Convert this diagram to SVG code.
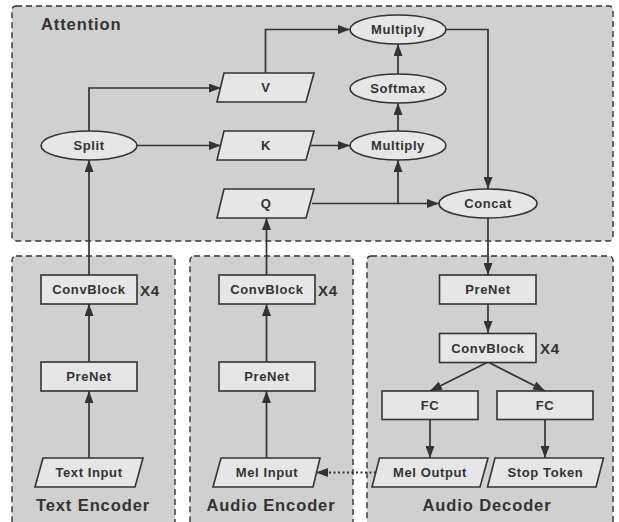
<svg xmlns="http://www.w3.org/2000/svg" width="619" height="522" viewBox="0 0 619 522">
<defs>
<marker id="arr" markerUnits="userSpaceOnUse" markerWidth="12" markerHeight="9" refX="12" refY="4.5" orient="auto">
<path d="M0,0 L12,4.5 L0,9 z" fill="#333"/>
</marker>
<style>
.sec{fill:#d0d0d0;stroke:#333;stroke-width:1.4;stroke-dasharray:6,4}
.n{fill:#e6e6e6;stroke:#333;stroke-width:1.6}
.t{font-family:"Liberation Sans",Arial,sans-serif;font-weight:bold;font-size:13px;fill:#333;text-anchor:middle;letter-spacing:0.6px}
.st{font-family:"Liberation Sans",Arial,sans-serif;font-weight:bold;font-size:16.5px;fill:#333;letter-spacing:0.9px}
.x4{font-family:"Liberation Sans",Arial,sans-serif;font-weight:bold;font-size:15px;fill:#333;letter-spacing:0.8px}
.c{fill:none;stroke:#333;stroke-width:1.7;marker-end:url(#arr)}
.d{fill:none;stroke:#333;stroke-width:2;stroke-dasharray:2,2.5;marker-end:url(#arr)}
</style>
</defs>

<g id="sections">
<rect class="sec" x="12" y="6" width="601" height="235" rx="4"/>
<rect class="sec" x="12" y="256" width="163" height="275" rx="4"/>
<rect class="sec" x="190" y="256" width="163" height="275" rx="4"/>
<rect class="sec" x="367" y="256" width="246" height="275" rx="4"/>
<text class="st" x="41" y="30">Attention</text>
<text class="st" x="93" y="511" text-anchor="middle">Text Encoder</text>
<text class="st" x="271" y="511" text-anchor="middle">Audio Encoder</text>
<text class="st" x="487" y="511" text-anchor="middle">Audio Decoder</text>
</g>

<g id="connectors">
<path class="c" d="M89,458 V391"/>
<path class="c" d="M89,362 V304"/>
<path class="c" d="M89,275 V160"/>
<path class="c" d="M89,131 V88 H221"/>
<path class="c" d="M137,145.5 H221"/>
<path class="c" d="M266.5,458 V391"/>
<path class="c" d="M266.5,362 V304"/>
<path class="c" d="M266.5,275 V218"/>
<path class="c" d="M265.5,73 V29.5 H350"/>
<path class="c" d="M311,145.5 H350"/>
<path class="c" d="M312,203.5 H439"/>
<path class="c" d="M398,203.5 V160"/>
<path class="c" d="M398,131 V103"/>
<path class="c" d="M398,74 V44"/>
<path class="c" d="M446,29.5 H488 V189"/>
<path class="c" d="M488,218 V275"/>
<path class="c" d="M488,304 V333"/>
<path class="c" d="M488,362 L430,391"/>
<path class="c" d="M488,362 L545,391"/>
<path class="c" d="M430,419 V458"/>
<path class="c" d="M545,419 V458"/>
<path class="d" d="M376,472.5 H316"/>
</g>

<g id="split"><ellipse class="n" cx="89" cy="145.5" rx="48" ry="14.5"/><text class="t" x="89" y="150">Split</text></g>
<g id="v"><polygon class="n" points="224,73 314,73 306,102 217,102"/><text class="t" x="266" y="92">V</text></g>
<g id="k"><polygon class="n" points="224,131 314,131 306,160 217,160"/><text class="t" x="266" y="150">K</text></g>
<g id="q"><polygon class="n" points="224,189 314,189 306,218 217,218"/><text class="t" x="266" y="208">Q</text></g>
<g id="multiply-top"><ellipse class="n" cx="398" cy="29.5" rx="48" ry="14.5"/><text class="t" x="398" y="34">Multiply</text></g>
<g id="softmax"><ellipse class="n" cx="398" cy="88.5" rx="48" ry="14.5"/><text class="t" x="398" y="93">Softmax</text></g>
<g id="multiply-mid"><ellipse class="n" cx="398" cy="145.5" rx="48" ry="14.5"/><text class="t" x="398" y="150">Multiply</text></g>
<g id="concat"><ellipse class="n" cx="488" cy="203.5" rx="49" ry="14.5"/><text class="t" x="488" y="208">Concat</text></g>

<g id="te-convblock"><rect class="n" x="41" y="275" width="96" height="29"/><text class="t" x="89" y="294">ConvBlock</text><text class="x4" x="140" y="296">X4</text></g>
<g id="te-prenet"><rect class="n" x="41" y="362" width="96" height="29"/><text class="t" x="89" y="381">PreNet</text></g>
<g id="text-input"><polygon class="n" points="43,458 143,458 135,487 35,487"/><text class="t" x="89" y="477">Text Input</text></g>

<g id="ae-convblock"><rect class="n" x="219" y="275" width="96" height="29"/><text class="t" x="267" y="294">ConvBlock</text><text class="x4" x="318" y="296">X4</text></g>
<g id="ae-prenet"><rect class="n" x="219" y="362" width="96" height="29"/><text class="t" x="267" y="381">PreNet</text></g>
<g id="mel-input"><polygon class="n" points="221,458 320,458 313,487 213,487"/><text class="t" x="267" y="477">Mel Input</text></g>

<g id="ad-prenet"><rect class="n" x="439.5" y="275" width="96.5" height="29"/><text class="t" x="488" y="294">PreNet</text></g>
<g id="ad-convblock"><rect class="n" x="439.5" y="333.5" width="96.5" height="29"/><text class="t" x="488" y="352.5">ConvBlock</text><text class="x4" x="540" y="354">X4</text></g>
<g id="fc-left"><rect class="n" x="382" y="391" width="96" height="28.5"/><text class="t" x="430" y="410">FC</text></g>
<g id="fc-right"><rect class="n" x="497" y="391" width="96" height="28.5"/><text class="t" x="545" y="410">FC</text></g>
<g id="mel-output"><polygon class="n" points="379.5,458 488,458 480,487 372,487"/><text class="t" x="430" y="477">Mel Output</text></g>
<g id="stop-token"><polygon class="n" points="495,458 603.5,458 596,487 487.5,487"/><text class="t" x="545.5" y="477">Stop Token</text></g>
</svg>
